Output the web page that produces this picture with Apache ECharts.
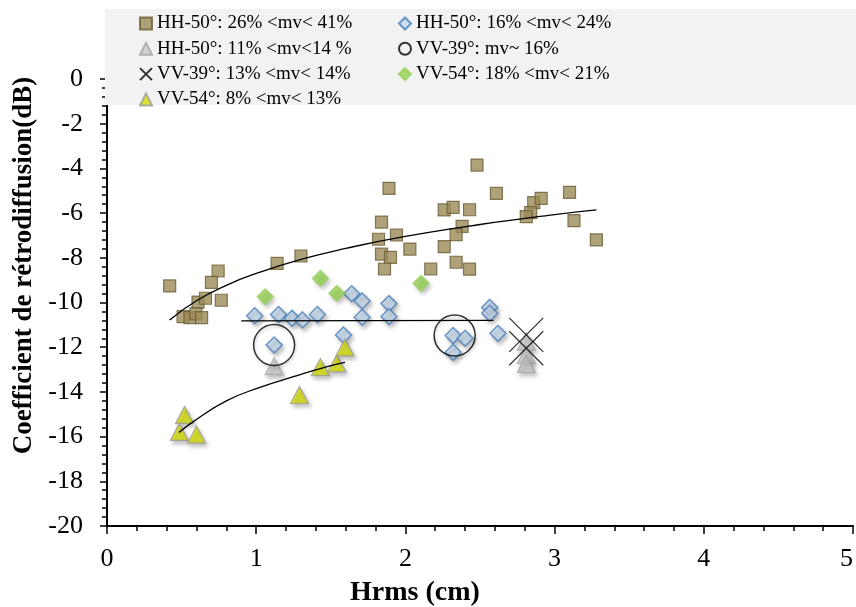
<!DOCTYPE html>
<html>
<head>
<meta charset="utf-8">
<script src="https://cdn.jsdelivr.net/npm/echarts@6/dist/echarts.min.js"></script>
<style>html,body{margin:0;padding:0;background:#fff}#c{width:856px;height:607px}</style>
</head>
<body>
<div id="c"></div>
<script>
// ---- data ----
const hh50High = [[0.42,-9.26],[0.745,-8.59],[0.70,-9.10],[0.766,-9.90],[0.61,-9.98],[0.66,-9.81],[0.51,-10.63],[0.556,-10.68],[0.596,-10.51],[0.634,-10.68],[1.14,-8.25],[1.30,-7.92],[1.89,-4.89],[1.84,-6.40],[1.94,-6.98],[1.82,-7.17],[1.84,-7.84],[1.90,-7.98],[1.86,-8.50],[2.03,-7.61],[2.17,-8.50],[2.26,-7.50],[2.26,-5.86],[2.48,-3.85],[2.61,-5.12],[2.32,-5.74],[2.43,-5.85],[2.38,-6.59],[2.34,-6.96],[2.34,-8.20],[2.43,-8.51],[3.10,-5.07],[2.86,-5.53],[2.91,-5.34],[2.84,-5.98],[2.81,-6.16],[3.13,-6.34],[3.28,-7.20]];
const hh50Mid = [[0.99,-10.59],[1.15,-10.54],[1.24,-10.71],[1.31,-10.78],[1.41,-10.54],[1.64,-9.61],[1.71,-9.93],[1.71,-10.66],[1.89,-10.05],[1.89,-10.63],[1.12,-11.90],[1.585,-11.45],[2.565,-10.22],[2.565,-10.48],[2.62,-11.38],[2.32,-11.48],[2.40,-11.60],[2.32,-12.23]];
const hh50Low = [[1.12,-12.85],[2.81,-11.75],[2.81,-12.35],[2.81,-12.75]];
const vv39Circle = [[1.12,-11.9],[2.33,-11.48]];
const vv39Cross = [[2.81,-11.45],[2.81,-12.05]];
const vv54High = [[1.06,-9.74],[1.43,-8.92],[1.54,-9.59],[2.105,-9.14]];
const vv54Low = [[0.52,-15.03],[0.485,-15.79],[0.60,-15.91],[1.29,-14.14],[1.43,-12.89],[1.54,-12.72],[1.595,-12.01]];
const trendHigh = [[0.42,-10.78],[0.6,-9.92],[0.8,-9.23],[1.0,-8.70],[1.3,-8.07],[1.6,-7.58],[2.0,-7.04],[2.5,-6.51],[3.0,-6.07],[3.28,-5.86]];
const trendMid = [[0.90,-10.82],[2.59,-10.80]];
const trendLow = [[0.482,-15.82],[0.578,-15.33],[0.80,-14.40],[1.025,-13.80],[1.25,-13.32],[1.47,-12.88],[1.595,-12.68]];
const names = ['HH-50°: 26% <mv< 41%','HH-50°: 16% <mv< 24%','HH-50°: 11% <mv<14 %','VV-39°: mv~ 16%','VV-39°: 13% <mv< 14%','VV-54°: 18% <mv< 21%','VV-54°: 8% <mv< 13%'];
const xMin = 0, xMax = 5, xStep = 1;
const yMin = -20, yMax = 0, yStep = 2;

const FONT = 'Liberation Serif, Times New Roman, serif';
const shadow = {shadowBlur:4, shadowOffsetX:2, shadowOffsetY:3, shadowColor:'rgba(0,0,0,0.3)'};
const chart = echarts.init(document.getElementById('c'));
const legendText = {fontFamily: FONT, fontSize: 19, color: '#000', lineHeight: 18};
function trend(data){
  return {type:'line', data:data, smooth:true, showSymbol:false, symbol:'none', silent:true,
    lineStyle:{color:'#000', width:1.3}, z:5};
}
chart.setOption({
  animation:false,
  graphic:[{type:'rect', left:105, top:9, shape:{width:751, height:96}, style:{fill:'#f2f2f2'}, z:3}],
  legend:[
    {data:[names[0],names[2],names[4],names[6]], orient:'vertical', left:139, top:14, itemGap:6.3, padding:0,
     itemWidth:12, itemHeight:12, textStyle:legendText, z:10},
    {data:[names[1],names[3],names[5]], orient:'vertical', left:398, top:14, itemGap:6.3, padding:0,
     itemWidth:12, itemHeight:12, textStyle:legendText, z:10}
  ],
  grid:{left:107, right:3, top:79, bottom:81, containLabel:false, outerBoundsMode:'none'},
  xAxis:{type:'value', min:xMin, max:xMax, interval:xStep,
    name:'Hrms (cm)', nameLocation:'middle', nameGap:53,
    nameTextStyle:{fontFamily:FONT, fontSize:28, fontWeight:'bold', color:'#000', padding:[0,130,0,0]},
    axisLine:{show:true, onZero:false, lineStyle:{color:'#000', width:2}},
    axisTick:{show:true, length:8, lineStyle:{color:'#000', width:1.5}},
    minorTick:{show:true, splitNumber:5, length:5, lineStyle:{color:'#000', width:1.5}},
    splitLine:{show:false},
    axisLabel:{fontFamily:FONT, fontSize:26, color:'#000', margin:20, alignMaxLabel:'right'}},
  yAxis:{type:'value', min:yMin, max:yMax, interval:yStep,
    name:'Coefficient de rétrodiffusion(dB)', nameLocation:'middle', nameGap:66,
    nameTextStyle:{fontFamily:FONT, fontSize:27, fontWeight:'bold', color:'#000', padding:[0,0,0,74]},
    axisLine:{show:true, onZero:false, lineStyle:{color:'#000', width:2}},
    axisTick:{show:true, length:7, lineStyle:{color:'#000', width:1.5}},
    minorTick:{show:true, splitNumber:5, length:5, lineStyle:{color:'#000', width:1.5}},
    splitLine:{show:false},
    axisLabel:{fontFamily:FONT, fontSize:26, color:'#000', margin:24}},
  series:[
    {name:names[0], type:'scatter', data:hh50High, symbol:'rect', symbolSize:12,
     itemStyle:{color:'#9c8b56', borderColor:'#6a5d36', borderWidth:1.2}, z:2},
    {name:names[1], type:'scatter', data:hh50Mid, symbol:'diamond', symbolSize:16,
     itemStyle:Object.assign({color:'#c6d9ec', borderColor:'#4a7ebb', borderWidth:1.5}, shadow), z:3},
    {name:names[2], type:'scatter', data:hh50Low, symbol:'triangle', symbolSize:[18,17],
     itemStyle:Object.assign({color:'#c8c8c8', borderColor:'#a5a5a5', borderWidth:1.2}, shadow), z:3},
    {name:names[3], type:'scatter', data:vv39Circle, symbol:'circle', symbolSize:41,
     itemStyle:Object.assign({color:'rgba(0,0,0,0)', borderColor:'#000', borderWidth:1.5}, {shadowBlur:3, shadowOffsetX:1, shadowOffsetY:2, shadowColor:'rgba(0,0,0,0.25)'}), z:4},
    {name:names[4], type:'scatter', data:vv39Cross, symbol:'path://M0,0L20,20M20,0L0,20', symbolSize:34,
     itemStyle:{color:'rgba(0,0,0,0)', borderColor:'#000', borderWidth:1.3}, z:4},
    {name:names[5], type:'scatter', data:vv54High, symbol:'diamond', symbolSize:17,
     itemStyle:Object.assign({color:'#92d050', borderColor:'#92d050', borderWidth:0.5}, shadow), z:3},
    {name:names[6], type:'scatter', data:vv54Low, symbol:'triangle', symbolSize:[18,17],
     itemStyle:Object.assign({color:'#d3dc04', borderColor:'#9a9a9a', borderWidth:1.2}, shadow), z:3},
    trend(trendHigh), trend(trendMid), trend(trendLow)
  ]
});
</script>
</body>
</html>
